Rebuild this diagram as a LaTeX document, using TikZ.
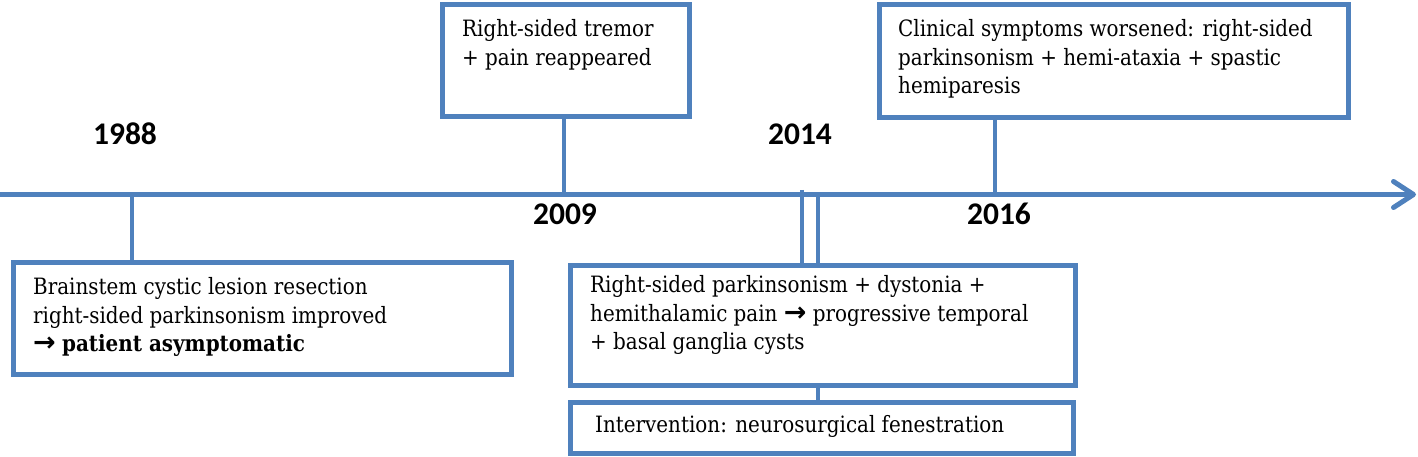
\documentclass[tikz,border=0pt]{standalone}
\usepackage{fontspec}
\setmainfont{DejaVu Serif}[FakeStretch=0.885]
\newfontfamily\yearfont{Carlito}
\newfontfamily\arrowfont{DejaVu Sans}
\newcommand{\rarr}{{\arrowfont\bfseries\fontsize{27}{28.5}\selectfont →}}
\usetikzlibrary{arrows.meta}
\definecolor{tlblue}{HTML}{4F81BD}
\tikzset{
  box/.style={draw=tlblue, line width=5pt, fill=white, inner sep=0pt, anchor=north west},
  link/.style={draw=tlblue, line width=4.5pt},
  axisline/.style={draw=tlblue, line width=5pt},
  txt/.style={inner sep=0pt, anchor=north west, align=left, font=\fontsize{22.5}{28.5}\selectfont},
  year/.style={inner sep=0pt, anchor=base, font=\yearfont\bfseries\fontsize{31.5}{36}\selectfont}
}
\begin{document}
\begin{tikzpicture}[x=1pt,y=-1pt]
\useasboundingbox (0,0) rectangle (1418,457);
% axis
\coordinate (axL) at (0,194.5);
\coordinate (axR) at (1416,194.5);
\draw[axisline, -{Straight Barb[length=20pt,width=26pt,round]}] (axL) -- (axR);
% boxes
\node[box, minimum width=498.5pt, minimum height=112.5pt] (b1988) at (10.5,259.5) {};
\node[box, minimum width=247.5pt, minimum height=112pt] (b2009) at (439.5,2.5) {};
\node[box, minimum width=469pt, minimum height=113pt] (b2016) at (876.5,2.5) {};
\node[box, minimum width=505pt, minimum height=120pt] (b2014) at (567.5,262.5) {};
\node[box, minimum width=503pt, minimum height=51pt] (bint) at (567.5,399.5) {};
% connector anchor points on axis
\coordinate (c1988) at (132,194.5);
\coordinate (c2009) at (564,194.5);
\coordinate (c2016) at (995,194.5);
\coordinate (c2014a) at (802,190);
\coordinate (c2014b) at (818,194.5);
\draw[link] (c1988) -- (c1988 |- b1988.north);
\draw[link] (b2009.south -| c2009) -- (c2009);
\draw[link] (b2016.south -| c2016) -- (c2016);
\draw[link] (c2014a) -- (c2014a |- b2014.north);
\draw[link] (c2014b) -- (c2014b |- b2014.north);
\draw[link] (b2014.south -| c2014b) -- (bint.north -| c2014b);
% texts
\node[txt] (t1988) at (33,277.5) {Brainstem cystic lesion resection\\right-sided parkinsonism improved\\\rarr{} \textbf{patient asymptomatic}};
\node[txt] (t2009) at (462,19.5) {Right-sided tremor\\+ pain reappeared};
\node[txt] (t2016) at (898,19.5) {Clinical symptoms worsened: right-sided\\parkinsonism + hemi-ataxia + spastic\\hemiparesis};
\node[txt] (t2014) at (590,275.5) {Right-sided parkinsonism + dystonia +\\hemithalamic pain \rarr{} progressive temporal\\+ basal ganglia cysts};
\node[txt] (tint) at (595,415.5) {Intervention: neurosurgical fenestration};
% years
\node[year] (y1988) at (125,145) {1988};
\node[year] (y2009) at (565,225) {2009};
\node[year] (y2014) at (800,145) {2014};
\node[year] (y2016) at (999,225) {2016};
\end{tikzpicture}
\end{document}
